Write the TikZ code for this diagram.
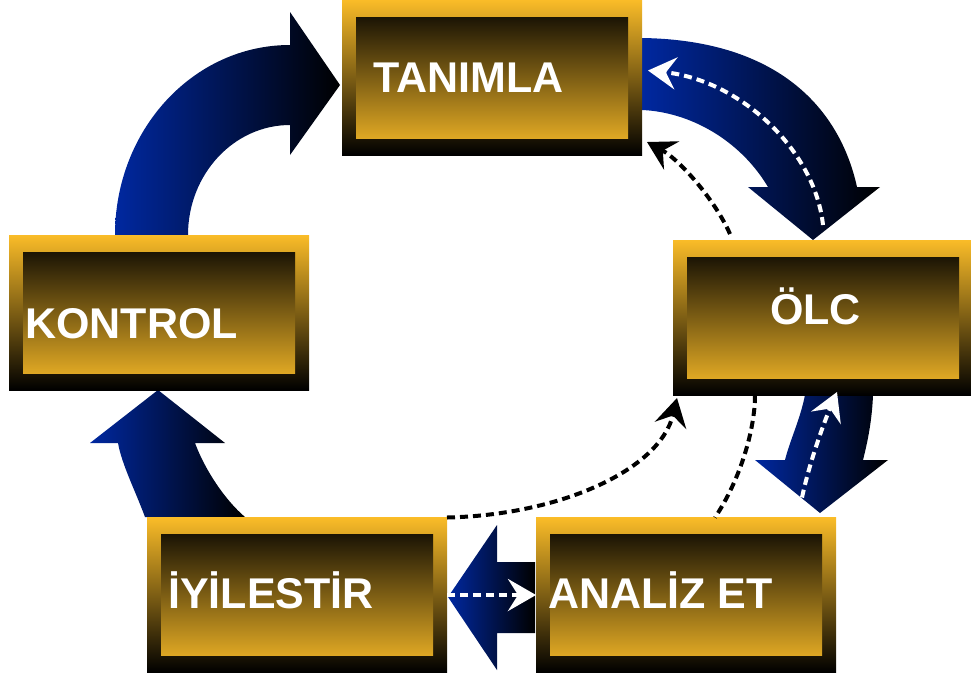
\documentclass[tikz,border=0pt]{standalone}
\usepackage{fontspec}
\setmainfont{Liberation Sans}
\usetikzlibrary{arrows.meta,calc}
\definecolor{stagegold}{RGB}{250,188,40}
\definecolor{cycleblue}{RGB}{0,40,160}

\begin{document}
\begin{tikzpicture}[x=1pt, y=-1pt,
    stage/.style={rectangle, minimum width=300pt, minimum height=155pt,
                  inner sep=0pt, outer sep=0pt,
                  top color=stagegold, bottom color=black,
                  path picture={\shade[top color=black, middle color=stagegold!45!black,
                                       bottom color=stagegold]
                      ([shift={(14,17)}]path picture bounding box.north west) rectangle
                      ([shift={(-14,-17)}]path picture bounding box.south east);}},
    stagetext/.style={anchor=base west, inner sep=0pt, text=white,
                      font=\fontsize{43}{48}\selectfont\bfseries},
    bigarrow/.style={left color=cycleblue, right color=black},
    flow/.style={line width=4pt, dash pattern=on 8pt off 5pt,
                 -{Stealth[length=28pt, width=32pt, inset=10pt]}}]
    \useasboundingbox (0,0) rectangle (971,681);

    % big cycle arrows
    \path[bigarrow] (115,235) .. controls (115,130) and (193,45) .. (290,45)
        -- (290,12) -- (340,85) -- (290,155) -- (290,125)
        .. controls (234,125) and (188,174) .. (188,235) -- cycle;
    \path[bigarrow] (642,38) .. controls (780,40) and (840,110) .. (857,187)
        -- (880,187) -- (813,240) -- (748,187) -- (768,187)
        .. controls (740,140) and (690,112) .. (642,110) -- cycle;
    \path[bigarrow] (805,395) .. controls (800,420) and (790,440) .. (785,460)
        -- (755,460) -- (820,513) -- (888,460) -- (863,460)
        .. controls (868,440) and (872,420) .. (873,395) -- cycle;
    \path[bigarrow] (535,562) -- (497,562) -- (497,525) -- (448,597)
        -- (497,670) -- (497,633) -- (535,633) -- cycle;
    \path[bigarrow] (145,517) .. controls (135,490) and (122,465) .. (118,443)
        -- (90,443) -- (158,390) -- (225,443) -- (195,443)
        .. controls (205,470) and (225,500) .. (245,517) -- cycle;

    % stages
    \node[stage] (tanimla) at (492,77.5) {};
    \node[stage] (olc) at (823,317.5) {};
    \node[stage] (kontrol) at (159,312.5) {};
    \node[stage] (iyilestir) at (297,595) {};
    \node[stage] (analiz) at (686,595) {};

    \node[stagetext] (tanimlaT) at (373,92) {TANIMLA};
    \node[stagetext] (olcT) at (770,324) {ÖLC};
    \node[stagetext] (kontrolT) at (25,338) {KONTROL};
    \node[stagetext] (iyilestirT) at (168,608) {İYİLESTİR};
    \node[stagetext] (analizT) at (548,608) {ANALİZ ET};

    % feedback lines
    \draw[flow, white] ($(olc.north)+(0,-15)$) .. controls (815,150) and (740,80) .. ($(tanimla.east)+(6,-7)$);
    \draw[flow] ($(olc.north west)+(57,-6)$) .. controls (715,200) and (680,160) .. ($(tanimla.south east)+(5,-13)$);
    \draw[flow, white] ($(analiz.north east)+(-34,-20)$) .. controls (810,460) and (825,420) .. ($(olc.south)+(14,-3)$);
    \draw[flow, -] ($(olc.south)+(-68,0)$) .. controls (755,430) and (740,480) .. ($(analiz.north)+(29,0)$);
    \draw[flow] (iyilestir.north east) .. controls (560,515) and (660,470) .. ($(olc.south west)+(4,3)$);
    \draw[flow, white] (iyilestir.east) -- (analiz.west);
\end{tikzpicture}
\end{document}
